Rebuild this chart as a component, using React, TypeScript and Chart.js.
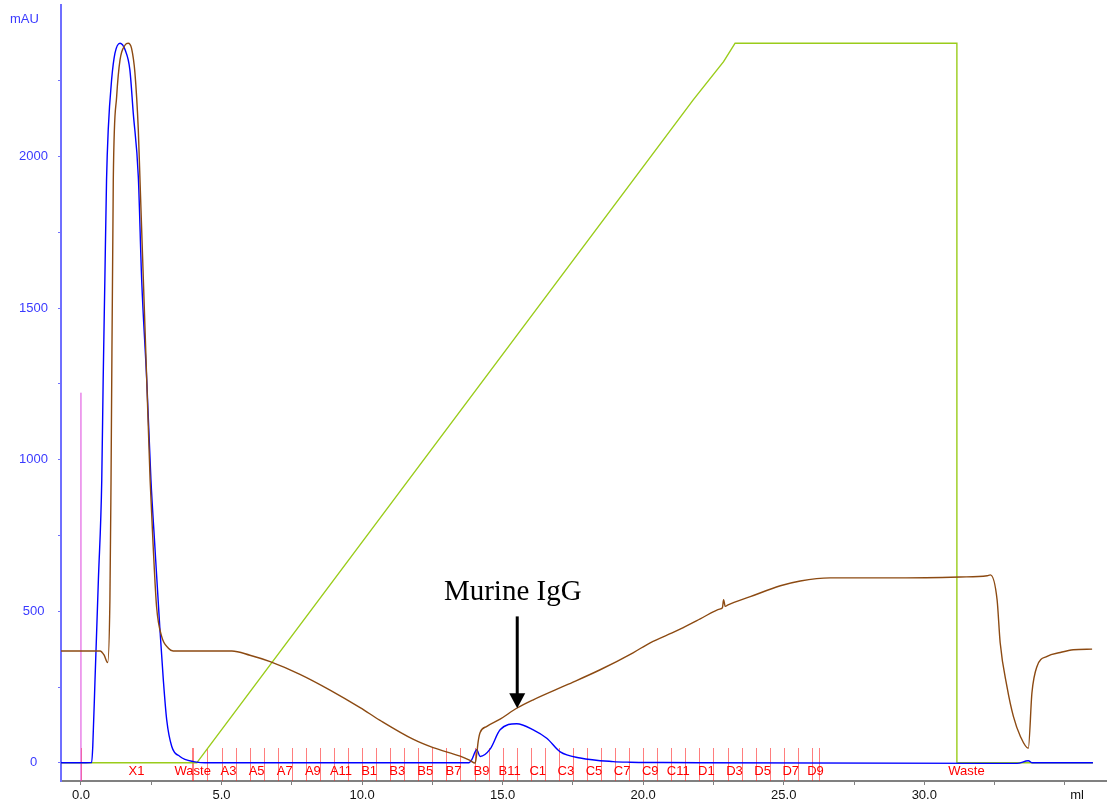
import React, { useEffect, useRef } from 'react';
import { Chart, registerables } from 'chart.js';

Chart.register(...registerables);

// ---- data (ml vs mAU-equivalent) ----
const uvX = [-0.71, 0.38, 0.42, 0.5, 0.62, 0.74, 0.79, 0.85, 0.91, 0.97, 1.09, 1.21, 1.39, 1.57, 1.74, 1.86, 2.04, 2.16, 2.34, 2.49, 2.63, 2.81, 2.93, 3.05, 3.23, 3.52, 4.0, 4.6, 13.8, 13.9, 14.08, 14.2, 14.56, 14.91, 15.5, 16.09, 16.57, 17.05, 17.76, 18.93, 19.54, 20.6, 22.0, 32.6, 33.3, 33.7, 33.84, 36.0];
const uvY = [0, 1, 54, 274, 604, 933, 1263, 1593, 1923, 2088, 2253, 2341, 2374, 2352, 2286, 2144, 1934, 1593, 1263, 933, 713, 439, 274, 142, 54, 21, 4, 0, 0, 10, 43, 21, 46, 109, 129, 109, 81, 36, 16, 4, 2, 1, 0, -2, -2, 7, 0, 0];

const condX = [-0.71, 0.68, 0.82, 0.95, 1.03, 1.07, 1.15, 1.27, 1.39, 1.57, 1.68, 1.8, 1.92, 2.04, 2.1, 2.22, 2.34, 2.46, 2.57, 2.69, 2.87, 3.11, 3.28, 5.37, 6.01, 6.73, 7.79, 8.86, 9.93, 10.64, 11.81, 12.53, 13.49, 13.84, 14.02, 14.08, 14.13, 14.2, 14.44, 14.91, 15.5, 16.09, 17.28, 18.47, 19.64, 20.25, 21.2, 22.03, 22.75, 22.82, 22.86, 22.92, 23.0, 23.81, 24.88, 25.59, 26.65, 29.15, 31.28, 32.24, 32.35, 32.59, 32.7, 32.94, 33.17, 33.42, 33.7, 33.83, 34.01, 34.37, 34.84, 35.3, 35.97];
const condY = [369, 369, 356, 331, 538, 933, 1923, 2198, 2319, 2368, 2374, 2357, 2276, 2088, 1923, 1593, 1263, 933, 713, 515, 417, 378, 369, 369, 355, 334, 292, 240, 182, 140, 78, 50, 22, 8, -1, 30, 70, 100, 120, 144, 180, 208, 257, 307, 363, 396, 436, 475, 508, 512, 538, 516, 520, 548, 584, 600, 610, 610, 613, 617, 620, 538, 396, 252, 153, 87, 48, 231, 318, 351, 364, 373, 375];

const concX = [-0.71, 4.12, 21.78, 22.86, 23.27, 31.16, 31.16, 36.0];
const concY = [0, 0, 2187, 2313, 2374, 2374, 0, 0];

const injectX = [0, 0];
const injectY = [-60, 1221];

const fractionBounds = [0, 3.95, 4.0, 4.5, 5.0, 5.5, 6.0, 6.5, 7.0, 7.5, 8.0, 8.5, 9.0, 9.5, 10.0, 10.5, 11.0, 11.5, 12.0, 12.5, 13.0, 13.5, 14.0, 14.5, 15.0, 15.5, 16.0, 16.5, 17.0, 17.5, 18.0, 18.5, 19.0, 19.5, 20.0, 20.5, 21.0, 21.5, 22.0, 22.5, 23.0, 23.5, 24.0, 24.5, 25.0, 25.5, 26.0, 26.26];
const fractionLabelX = [1.975, 3.975, 5.25, 6.25, 7.25, 8.25, 9.25, 10.25, 11.25, 12.25, 13.25, 14.25, 15.25, 16.25, 17.25, 18.25, 19.25, 20.25, 21.25, 22.25, 23.25, 24.25, 25.25, 26.13, 31.5];
const fractionLabelText = ['X1', 'Waste', 'A3', 'A5', 'A7', 'A9', 'A11', 'B1', 'B3', 'B5', 'B7', 'B9', 'B11', 'C1', 'C3', 'C5', 'C7', 'C9', 'C11', 'D1', 'D3', 'D5', 'D7', 'D9', 'Waste'];

const xTickValues = [0, 2.5, 5, 7.5, 10, 12.5, 15, 17.5, 20, 22.5, 25, 27.5, 30, 32.5, 35];
const xTickLabels = ['0.0', '', '5.0', '', '10.0', '', '15.0', '', '20.0', '', '25.0', '', '30.0', '', ''];
const yTickValues = [0, 250, 500, 750, 1000, 1250, 1500, 1750, 2000, 2250];
const yTickLabels = ['0', '', '500', '', '1000', '', '1500', '', '2000', ''];

const annotationText = 'Murine IgG';
const annotationTextX = 15.36;
const annotationTextY = 538;
const arrowX = 15.52;
const arrowTopY = 483;
const arrowTipY = 180;

const SANS = "'Liberation Sans', Arial, sans-serif";
const SERIF = "'Liberation Serif', 'Times New Roman', serif";

const toPts = (xs: number[], ys: number[]) => xs.map((x, i) => ({ x, y: ys[i] }));

const overlayPlugin = {
  id: 'overlay',
  beforeDatasetsDraw(chart: any) {
    const { ctx, scales, chartArea } = chart;
    const x = scales.x;
    ctx.save();
    ctx.strokeStyle = 'rgba(255,40,40,0.6)';
    ctx.lineWidth = 1;
    const yb = chartArea.bottom;
    fractionBounds.forEach((v) => {
      const px = Math.round(x.getPixelForValue(v)) + 0.5;
      ctx.beginPath();
      ctx.moveTo(px, yb);
      ctx.lineTo(px, yb - 33);
      ctx.stroke();
    });
    ctx.restore();
  },
  afterDatasetsDraw(chart: any) {
    const { ctx, scales, chartArea } = chart;
    const x = scales.x;
    const y = scales.y;
    ctx.save();
    // fraction labels
    ctx.fillStyle = '#ff0000';
    ctx.font = `13px ${SANS}`;
    ctx.textAlign = 'center';
    ctx.textBaseline = 'middle';
    const yb = chartArea.bottom;
    fractionLabelText.forEach((t, i) => {
      ctx.fillText(t, x.getPixelForValue(fractionLabelX[i]), yb - 10);
    });
    // annotation
    ctx.fillStyle = '#000';
    ctx.font = `29px ${SERIF}`;
    ctx.textAlign = 'center';
    ctx.textBaseline = 'alphabetic';
    ctx.fillText(annotationText, x.getPixelForValue(annotationTextX), y.getPixelForValue(annotationTextY));
    const ax = x.getPixelForValue(arrowX);
    const aTop = y.getPixelForValue(arrowTopY);
    const aTip = y.getPixelForValue(arrowTipY);
    ctx.strokeStyle = '#000';
    ctx.lineWidth = 3;
    ctx.beginPath();
    ctx.moveTo(ax, aTop);
    ctx.lineTo(ax, aTip - 12);
    ctx.stroke();
    ctx.beginPath();
    ctx.moveTo(ax - 8, aTip - 15);
    ctx.lineTo(ax + 8, aTip - 15);
    ctx.lineTo(ax, aTip);
    ctx.closePath();
    ctx.fill();
    // axis unit labels
    ctx.fillStyle = '#3a3aff';
    ctx.font = `13px ${SANS}`;
    ctx.textAlign = 'left';
    ctx.textBaseline = 'middle';
    ctx.fillText('mAU', 10, 19);
    ctx.fillStyle = '#111';
    ctx.textAlign = 'center';
    ctx.fillText('ml', 1077, 795);
    ctx.restore();
  },
};

export default function App() {
  const ref = useRef<HTMLCanvasElement | null>(null);
  useEffect(() => {
    document.body.style.margin = '0';
    const canvas = ref.current;
    if (!canvas) return;
    const chart = new Chart(canvas, {
      type: 'line',
      data: {
        datasets: [
          {
            label: 'Conductivity',
            data: toPts(condX, condY),
            borderColor: '#8c4a12',
            borderWidth: 1.4,
            pointRadius: 0,
            cubicInterpolationMode: 'monotone',
          },
          {
            label: 'UV',
            data: toPts(uvX, uvY),
            borderColor: '#0000ff',
            borderWidth: 1.4,
            pointRadius: 0,
            cubicInterpolationMode: 'monotone',
          },
          {
            label: 'Conc B',
            data: toPts(concX, concY),
            borderColor: '#9acc1a',
            borderWidth: 1.4,
            pointRadius: 0,
            tension: 0,
          },
          {
            label: 'Inject',
            data: toPts(injectX, injectY),
            borderColor: '#dd44dd',
            borderWidth: 1,
            pointRadius: 0,
          },
        ],
      },
      options: {
        responsive: false,
        animation: false,
        devicePixelRatio: 1,
        parsing: false as any,
        layout: { padding: { top: 5, right: 0, bottom: 0, left: 0 } },
        plugins: { legend: { display: false }, tooltip: { enabled: false } },
        scales: {
          x: {
            type: 'linear',
            min: -0.71,
            max: 36.5,
            afterBuildTicks: (s: any) => {
              s.ticks = xTickValues.map((v) => ({ value: v }));
            },
            afterFit: (s: any) => {
              s.height = 22;
              s.paddingLeft = 0;
              s.paddingRight = 0;
            },
            border: { color: '#808080', width: 2 },
            grid: { drawOnChartArea: false, drawTicks: true, tickLength: 4, color: '#808080' },
            ticks: {
              autoSkip: false,
              maxRotation: 0,
              padding: 3,
              color: '#111',
              font: { family: SANS, size: 13 },
              callback: (_v: any, i: number) => xTickLabels[i] ?? '',
            },
          },
          y: {
            type: 'linear',
            min: -60,
            max: 2500,
            afterBuildTicks: (s: any) => {
              s.ticks = yTickValues.map((v) => ({ value: v }));
            },
            afterFit: (s: any) => {
              s.width = 61;
              s.paddingTop = 0;
              s.paddingBottom = 0;
            },
            border: { color: '#6f6fff', width: 2 },
            grid: { drawOnChartArea: false, drawTicks: true, tickLength: 3, color: '#6f6fff' },
            ticks: {
              autoSkip: false,
              padding: 10,
              crossAlign: 'center',
              color: '#3a3aff',
              font: { family: SANS, size: 13 },
              callback: (_v: any, i: number) => yTickLabels[i] ?? '',
            },
          },
        },
      },
      plugins: [overlayPlugin],
    } as any);
    return () => chart.destroy();
  }, []);
  return <canvas ref={ref} width={1107} height={803} style={{ display: 'block' }} />;
}
